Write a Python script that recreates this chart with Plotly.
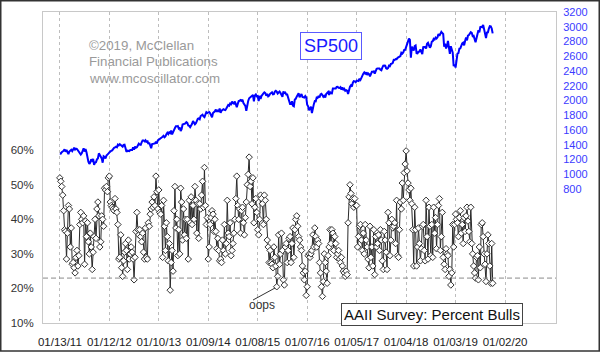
import plotly.graph_objects as go
import pandas as pd

# ---------------- data ----------------
start_date = "2011-01-13"  # weekly readings (Thursdays)

bulls_2011 = [52, 51, 49.5, 47, 42.5, 37, 36.5, 28.5, 36, 44, 43, 32, 37.5, 27, 27.5, 26, 24.5, 29, 31, 26.5,
              29.5, 38.5, 42, 40, 39, 41, 27, 39.5, 35, 39, 33.5, 30, 36, 32, 25.5, 30.5, 35, 40, 34.5, 43,
              45, 41, 32, 33.5, 41, 40, 38, 49, 48.5, 49.5, 48, 52]
bulls_2012 = [52.5, 45, 44, 43.5, 43, 42.5, 46, 43, 42, 38.5, 28.5, 29, 35.5, 26, 23.5, 28, 30.5, 33, 31, 25.5,
              34, 28.5, 30, 32, 30.5, 28.5, 22.5, 29, 36.5, 42, 37, 35.5, 37, 35, 33.5, 36, 30.5, 28.5, 37.5, 29,
              28.5, 39, 38, 41.5, 43, 45, 43.5, 46.5, 44, 52.5, 48, 43]
bulls_2013 = [48.5, 42, 41.5, 44, 29, 45.5, 38, 31, 39, 35, 28, 33, 19.5, 27.5, 31, 25, 42.5, 49.5, 37.5, 40,
              29.5, 37, 30, 49, 45, 34, 43, 35.5, 40, 34.5, 40, 28.5, 45.5, 39, 46.5, 38.5, 44, 40, 49.5, 45.5,
              36, 44.5, 34.5, 44.5, 43, 47, 51, 43.5, 55, 44, 38.5, 40.5]
bulls_2014 = [28.5, 32, 38.5, 40.5, 42.5, 41.5, 36.5, 40, 36.5, 31.5, 34.5, 31, 28, 28.5, 27.5, 34, 31, 38.5, 30, 33,
              45.5, 36, 35, 39, 29.5, 31, 33, 36, 40, 46, 52.5, 44, 40, 43, 36, 42.5, 43.5, 39, 35.5, 40.5,
              45, 50, 53, 58, 49.5, 51, 44.5, 52, 39, 43.5, 46, 42]
bulls_2015 = [37, 35.5, 40, 47, 46, 44.5, 38.5, 47, 45.5, 40, 34, 32, 27.5, 31, 27.5, 27, 26, 32, 29, 26.5,
              20.5, 23.5, 35.5, 27, 30, 36, 31, 22.5, 21, 32, 33, 27.5, 31, 34.5, 35, 27.5, 33, 37.5, 29, 37,
              40, 41, 38, 35, 34, 32, 31, 26.5, 24.5, 22.5, 25, 18]
bulls_2016 = [20.5, 29.5, 30, 29, 30, 31, 35.5, 32, 37.5, 35, 32, 34, 33, 27.5, 24.5, 20.5, 17.7, 22, 30, 27.5,
              25, 21.5, 29.5, 32, 37, 33, 37, 36, 31, 35, 33, 29, 30, 31, 28.5, 27.5, 29, 26.5, 25, 24.5,
              23.5, 25, 24, 39, 46.5, 50, 47.5, 44.5, 46, 43.5, 46, 44]
bulls_2017 = [44, 32, 35, 38, 38.5, 34, 31, 36, 30, 38.5, 34, 32, 28.5, 26, 38, 29, 32, 26.5, 37, 24,
              35, 32, 33, 35.5, 31, 37, 34, 28, 25.5, 36.5, 34, 30.5, 25.5, 42, 39, 29.5, 34, 40, 37.5, 38,
              39, 33, 45.5, 29.5, 29, 37, 45, 43, 50.5, 45.5, 53.5, 56]
bulls_2018 = [59.8, 54, 50.5, 48.5, 45.5, 49, 44.5, 37, 26.5, 43.5, 37, 26.5, 32, 37.5, 33, 28, 31.5, 38, 38.5, 31,
              28, 45.5, 35, 28.5, 43.5, 38, 29.5, 38.5, 29, 43.5, 36, 40.5, 31.5, 38.5, 44, 46, 31, 35, 42, 29,
              27, 25.5, 31.5, 30, 29.5, 23.5, 25.5, 21, 24.5, 38.5, 32, 38.5]
bulls_2019 = [41.5, 40, 39, 35, 40.5, 42.5, 36, 38.5, 33, 40.5, 36.5, 41, 43.5, 39.5, 36.5, 33.5, 43.5, 33, 30, 26.5,
              24.5, 23, 29, 29.5, 22.5, 32, 26, 38.5, 39, 35, 30, 27, 22, 30, 35.5, 33, 26.5, 21.5, 33, 21.5]

sp_2011 = [1283, 1280, 1299, 1307, 1321, 1340, 1306, 1330, 1295, 1273, 1309, 1326, 1333, 1314, 1337, 1360, 1335,
           1348, 1343, 1325, 1313, 1289, 1267, 1284, 1320, 1353, 1309, 1343, 1300, 1200, 1172, 1140, 1159, 1204,
           1185, 1209, 1129, 1160, 1165, 1203, 1215, 1284, 1261, 1239, 1216, 1158, 1244, 1234, 1215, 1254, 1263]
sp_2012 = [1281, 1295, 1315, 1318, 1325, 1351, 1358, 1364, 1374, 1366, 1403, 1393, 1408, 1398, 1387, 1376, 1399,
           1402, 1357, 1305, 1320, 1313, 1315, 1329, 1325, 1329, 1367, 1334, 1376, 1360, 1366, 1402, 1415, 1402,
           1399, 1432, 1460, 1460, 1447, 1461, 1432, 1457, 1412, 1428, 1379, 1353, 1409, 1416, 1414, 1419, 1443, 1419]
sp_2013 = [1459, 1472, 1480, 1494, 1498, 1509, 1521, 1502, 1514, 1544, 1563, 1545, 1569, 1559, 1593, 1541, 1585,
           1598, 1627, 1650, 1650, 1654, 1622, 1636, 1588, 1613, 1676, 1680, 1689, 1690, 1706, 1697, 1661, 1656,
           1638, 1655, 1684, 1722, 1699, 1678, 1692, 1733, 1752, 1757, 1747, 1790, 1795, 1807, 1785, 1775, 1810, 1842]
sp_2014 = [1831, 1838, 1845, 1828, 1794, 1773, 1830, 1839, 1854, 1878, 1846, 1872, 1849, 1891, 1833, 1864, 1878,
           1883, 1875, 1870, 1892, 1920, 1940, 1930, 1959, 1950, 1985, 1965, 1958, 1987, 1931, 1910, 1955, 1992,
           1997, 2008, 1997, 2011, 1966, 1946, 1928, 1862, 1950, 1995, 2031, 2039, 2052, 2067, 2075, 1990, 2070, 2082]
sp_2015 = [2058, 2062, 1992, 2063, 2021, 2062, 2088, 2097, 2110, 2101, 2065, 2089, 2056, 2066, 2091, 2106, 2112,
           2085, 2088, 2121, 2131, 2120, 2095, 2108, 2121, 2102, 2077, 2051, 2124, 2102, 2108, 2083, 2083, 2035,
           1988, 1952, 1952, 1990, 1932, 1923, 2013, 2024, 2052, 2089, 2099, 2046, 2081, 2089, 2049, 2047, 2041,
           2061, 2044]
sp_2016 = [1944, 1921, 1869, 1893, 1916, 1829, 1918, 1951, 1993, 1990, 2040, 2036, 2063, 2042, 2083, 2091, 2075,
           2051, 2064, 2040, 2090, 2105, 2116, 2077, 2113, 2099, 2097, 2163, 2165, 2170, 2164, 2185, 2187, 2172,
           2170, 2181, 2147, 2177, 2151, 2160, 2132, 2141, 2133, 2088, 2167, 2187, 2205, 2191, 2241, 2262, 2260, 2249]
sp_2017 = [2270, 2271, 2264, 2297, 2280, 2307, 2347, 2364, 2381, 2364, 2382, 2346, 2368, 2357, 2329, 2355, 2389,
           2389, 2395, 2365, 2415, 2430, 2434, 2432, 2434, 2419, 2410, 2447, 2473, 2475, 2472, 2438, 2430, 2439,
           2472, 2466, 2496, 2500, 2510, 2552, 2551, 2562, 2560, 2579, 2585, 2586, 2603, 2647, 2637, 2652, 2685, 2687]
sp_2018 = [2723, 2767, 2798, 2839, 2822, 2581, 2731, 2703, 2677, 2738, 2747, 2643, 2640, 2662, 2663, 2693, 2666,
           2630, 2723, 2720, 2727, 2705, 2770, 2782, 2749, 2716, 2737, 2798, 2804, 2837, 2827, 2853, 2840, 2856,
           2901, 2878, 2904, 2931, 2914, 2902, 2729, 2769, 2705, 2740, 2807, 2730, 2633, 2737, 2695, 2650, 2467, 2488]
sp_2019 = [2448, 2596, 2636, 2643, 2704, 2706, 2745, 2774, 2784, 2748, 2808, 2855, 2815, 2879, 2888, 2905, 2926,
           2918, 2871, 2876, 2822, 2789, 2843, 2892, 2954, 2925, 2996, 3000, 2995, 3025, 2953, 2938, 2847, 2922,
           2924, 2976, 3009, 3006, 2977, 2911]

x_tick_dates = ["2011-01-13", "2012-01-12", "2013-01-10", "2014-01-09", "2015-01-08",
                "2016-01-07", "2017-01-05", "2018-01-04", "2019-01-03", "2020-01-02"]
pct_ticks = [10, 20, 30, 40, 50, 60]
sp_ticks = list(range(800, 3201, 200))
threshold = 23

bulls = (bulls_2011 + bulls_2012 + bulls_2013 + bulls_2014 + bulls_2015 +
         bulls_2016 + bulls_2017 + bulls_2018 + bulls_2019)
sp500 = sp_2011 + sp_2012 + sp_2013 + sp_2014 + sp_2015 + sp_2016 + sp_2017 + sp_2018 + sp_2019
bull_dates = pd.date_range(start_date, periods=len(bulls), freq="7D")
sp_dates = pd.date_range(start_date, periods=len(sp500), freq="7D")

# ---------------- layout helpers ----------------
W, H = 600, 352
L, R, T, B = 43, 44, 12, 29
PW, PH = W - L - R, H - T - B


def px(x):
    return (x - L) / PW


def py(y):
    return (H - B - y) / PH


FONT = "Liberation Sans, Arial, sans-serif"

fig = go.Figure()
fig.add_trace(go.Scatter(x=sp_dates, y=sp500, mode="lines", yaxis="y2",
                         line=dict(color="#0000ff", width=2), hoverinfo="skip"))
fig.add_trace(go.Scatter(x=bull_dates, y=bulls, mode="lines+markers",
                         line=dict(color="#2a2a2a", width=1),
                         marker=dict(symbol="diamond", size=5, color="white",
                                     line=dict(color="#333333", width=1)),
                         hoverinfo="skip"))

fig.update_layout(
    width=W, height=H, margin=dict(l=L, r=R, t=T, b=B, autoexpand=False),
    paper_bgcolor="white", plot_bgcolor="white", showlegend=False,
    font=dict(family=FONT, color="#222"),
    xaxis=dict(type="date", range=["2010-09-11", "2021-01-11"], automargin=False,
               tickvals=x_tick_dates, tickformat="%m/%d/%y",
               showgrid=True, gridcolor="#bdbdbd", griddash="dot", gridwidth=1,
               showline=True, linecolor="#c8c8c8", mirror=True, zeroline=False,
               ticks="outside", ticklen=8, tickcolor="rgba(0,0,0,0)",
               tickfont=dict(size=11.5, color="#222")),
    yaxis=dict(range=[10, 100], tickvals=pct_ticks, ticktext=[f"{v}%" for v in pct_ticks],
               automargin=False,
               showgrid=False, zeroline=False, showline=True, linecolor="#c8c8c8", mirror=True,
               ticks="outside", ticklen=6, tickcolor="rgba(0,0,0,0)",
               tickfont=dict(size=11.5, color="#333")),
    yaxis2=dict(range=[-1015, 3200], overlaying="y", side="right", tickvals=sp_ticks,
                automargin=False,
                showgrid=False, zeroline=False, showline=False,
                ticks="outside", ticklen=4, tickcolor="rgba(0,0,0,0)",
                tickfont=dict(size=11, color="#3b3bff")),
)

shapes = [
    dict(type="line", xref="paper", x0=0, x1=1, yref="y", y0=threshold, y1=threshold,
         line=dict(color="#8a8a8a", width=1, dash="5px,3px")),
    dict(type="line", xref="paper", yref="paper", x0=px(253), y0=py(300), x1=px(275), y1=py(288),
         line=dict(color="#333", width=1)),
    dict(type="rect", xref="paper", yref="paper", x0=px(0.75), x1=px(599.25), y0=py(351), y1=py(0.75),
         line=dict(color="#333", width=1.5)),
]
fig.update_layout(shapes=shapes)

ann = []
for txt, yc in [("©2019, McClellan", 45.5), ("Financial Publications", 62), ("www.mcoscillator.com", 78.5)]:
    ann.append(dict(text=txt, xref="paper", yref="paper", x=px(87), y=py(yc), xanchor="left",
                    yanchor="middle", showarrow=False, font=dict(size=13.3, color="#9a9a9a")))
ann.append(dict(text="SP500", xref="paper", yref="paper", x=px(330.5), y=py(45.5), xanchor="center",
                yanchor="middle", showarrow=False, font=dict(size=18, color="#1a1aff"),
                bordercolor="#5a5aff", borderwidth=1, borderpad=3, bgcolor="white"))
ann.append(dict(text="AAII Survey: Percent Bulls", xref="paper", yref="paper", x=px(431.5), y=py(314),
                xanchor="center", yanchor="middle", showarrow=False, font=dict(size=15, color="#111"),
                bordercolor="#444", borderwidth=1, borderpad=2, bgcolor="white"))
ann.append(dict(text="oops", xref="paper", yref="paper", x=px(262), y=py(305), xanchor="center",
                yanchor="middle", showarrow=False, font=dict(size=12, color="#333")))
fig.update_layout(annotations=ann)

fig.write_html("out.html")
